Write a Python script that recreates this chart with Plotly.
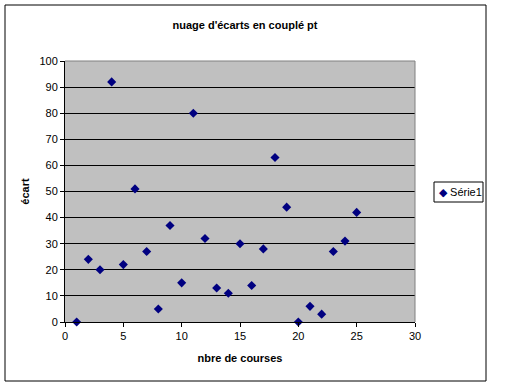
import plotly.graph_objects as go

courses = list(range(1, 26))
ecarts = [0, 24, 20, 92, 22, 51, 27, 5, 37, 15, 80, 32, 13, 11, 30, 14, 28, 63, 44, 0, 6, 3, 27, 31, 42]
series_name = "Série1"
title_text = "nuage d'écarts en couplé pt"
x_title = "nbre de courses"
y_title = "écart"

W, H = 512, 387
L, R, T, B = 65, 415, 61, 322
pw, ph = R - L, B - T

def px(x):
    return (x - L) / pw

def py(y):
    return (B - y) / ph

FAM = "Liberation Sans, Arial"
font = dict(family=FAM, size=11, color="black")
bold = dict(family=FAM, size=11, color="black", weight="bold")

fig = go.Figure()
fig.add_trace(go.Scatter(
    x=courses, y=ecarts, mode="markers", name=series_name,
    marker=dict(symbol="diamond", size=7, color="#000080"),
    cliponaxis=False, showlegend=False,
))

fig.update_layout(
    width=W, height=H,
    margin=dict(l=L, r=W - R, t=T, b=H - B, pad=0, autoexpand=False),
    paper_bgcolor="white", plot_bgcolor="#c0c0c0",
    font=font,
    showlegend=False,
    title=dict(text=title_text, x=px(245), xref="paper", xanchor="center",
               y=1 - 25 / H, yanchor="middle", font=bold),
    xaxis=dict(range=[0, 30], tickvals=[0, 5, 10, 15, 20, 25, 30], showgrid=False,
               zeroline=False, showline=True, linecolor="black", linewidth=1,
               ticks="outside", ticklen=4, tickcolor="black", automargin=False,
               tickfont=dict(family=FAM, size=11, color="#000000"),
               title=dict(text=x_title, standoff=13, font=bold)),
    yaxis=dict(range=[0, 100], tickvals=list(range(0, 101, 10)), showgrid=True,
               gridcolor="black", gridwidth=1,
               zeroline=False, showline=True, linecolor="black", linewidth=1,
               ticks="outside", ticklen=4, tickcolor="black", automargin=False,
               tickfont=dict(family=FAM, size=11, color="#000000"),
               title=dict(text=y_title, standoff=7, font=bold)),
    shapes=[
        dict(type="line", xref="paper", yref="paper", x0=0, x1=1, y0=1, y1=1,
             line=dict(color="#808080", width=1)),
        dict(type="line", xref="paper", yref="paper", x0=1, x1=1, y0=0, y1=1,
             line=dict(color="#808080", width=1)),
        dict(type="rect", xref="paper", yref="paper", x0=px(5), x1=px(486),
             y0=py(381), y1=py(5), line=dict(color="black", width=1),
             fillcolor="rgba(0,0,0,0)", layer="below"),
        dict(type="rect", xref="paper", yref="paper", x0=px(434), x1=px(483),
             y0=py(202), y1=py(182), line=dict(color="black", width=1),
             fillcolor="white"),
    ],
    annotations=[
        dict(text='<span style="color:#000080">◆</span> ' + series_name,
             xref="paper", yref="paper", x=px(437), y=py(192),
             xanchor="left", yanchor="middle", showarrow=False,
             font=dict(family=FAM, size=11, color="black")),
    ],
)

fig.write_html("out.html", config={"displayModeBar": False})

with open("out.html", "r", encoding="utf-8") as f:
    html = f.read()
html = html.replace("<head>", "<head><style>html,body{margin:0;padding:0;overflow:hidden;}</style>", 1)
with open("out.html", "w", encoding="utf-8") as f:
    f.write(html)
